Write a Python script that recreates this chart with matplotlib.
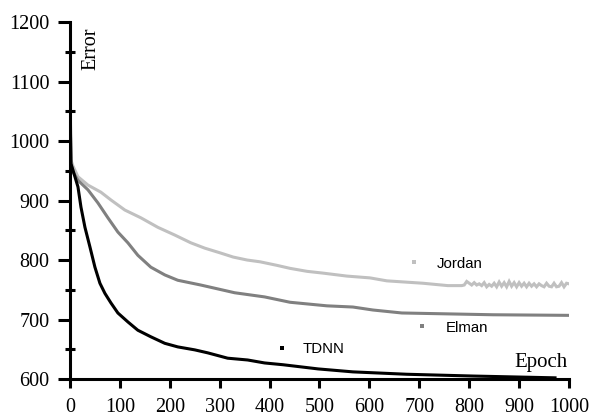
import matplotlib
matplotlib.use("Agg")
import matplotlib.pyplot as plt
from matplotlib.ticker import MultipleLocator

# curves (epoch, error)
tdnn_epoch = [0, 2, 6, 16, 22, 30, 40, 50, 60, 70, 82, 96, 116, 136, 162, 190, 216,
              250, 276, 316, 356, 390, 427, 497, 567, 675, 808, 972]
tdnn_error = [1060, 962, 951, 923, 889, 855, 822, 788, 761, 744, 728, 711, 696, 682,
              671, 660, 654, 649, 644, 635, 632, 627, 624, 617, 612, 608, 605, 602]

elman_epoch = [0, 2, 6, 16, 36, 56, 76, 96, 116, 136, 162, 190, 216, 262, 330,
               390, 441, 515, 567, 607, 665, 848, 1000]
elman_error = [1095, 962, 948, 934, 918, 896, 871, 847, 829, 808, 788, 775, 766, 758,
               745, 738, 729, 723, 721, 716, 711, 708, 707]

jordan_epoch = [0, 2, 6, 16, 36, 62, 82, 110, 142, 176, 210, 242, 270, 301, 327,
                355, 381, 415, 441, 475, 507, 555, 601, 635, 707, 757, 780, 785, 790,
                795, 800, 805, 810, 815, 820, 825, 830, 835, 840, 845, 850, 855, 860,
                865, 870, 875, 880, 885, 890, 895, 900, 905, 910, 915, 920, 925, 930,
                935, 940, 945, 950, 955, 960, 965, 970, 975, 980, 985, 990, 995, 1000]
jordan_error = [1100, 968, 958, 940, 926, 914, 901, 884, 871, 855, 842, 829, 820,
                812, 805, 800, 797, 791, 786, 781, 778, 773, 770, 765, 761, 757, 757,
                757, 758, 764, 761, 758, 762, 758, 760, 757, 762, 755, 759, 756, 761,
                755, 763, 756, 762, 755, 764, 756, 762, 755, 762, 756, 761, 755, 761,
                756, 760, 755, 760, 757, 755, 761, 756, 755, 761, 755, 756, 762, 755,
                761, 760]

names = ["Jordan", "Elman", "TDNN"]
colors = ["#c0c0c0", "#808080", "#000000"]
label_marker = [(689, 797), (705, 689), (425, 652)]
label_text = [(735, 793), (752, 686), (467, 650)]

fig = plt.figure(figsize=(5.91, 4.16), dpi=100)
ax = fig.add_axes([0.1184, 0.0889, 0.8444, 0.8581])

series = [(jordan_epoch, jordan_error), (elman_epoch, elman_error), (tdnn_epoch, tdnn_error)]
for (ep, er), c in zip(series, colors):
    ax.plot(ep, er, color=c, linewidth=2.2, zorder=2, solid_joinstyle="miter")

for name, c, (mx, my), (tx, ty) in zip(names, colors, label_marker, label_text):
    ax.plot([mx], [my], marker="s", ms=2.2, mew=0, color=c, linestyle="none")
    ax.text(tx, ty, name, fontsize=10.8, family="Liberation Sans", va="center", ha="left")

ax.set_xlim(0, 1000)
ax.set_ylim(600, 1200)
for s in ["top", "right"]:
    ax.spines[s].set_visible(False)
for s in ["left", "bottom"]:
    ax.spines[s].set_linewidth(2.2)
    ax.spines[s].set_zorder(3)

ax.xaxis.set_major_locator(MultipleLocator(100))
ax.yaxis.set_major_locator(MultipleLocator(100))
ax.yaxis.set_minor_locator(MultipleLocator(50))
ax.tick_params(axis="x", direction="out", length=6.5, width=2.2, pad=7,
               labelsize=14.5, labelfontfamily="Liberation Serif")
ax.tick_params(axis="y", which="major", direction="out", length=8.6, width=2.2, pad=6,
               labelsize=14.5, labelfontfamily="Liberation Serif")
ax.tick_params(axis="y", which="minor", direction="inout", length=7.2, width=2.2)

ax.text(42, 1155, "Error", rotation=90, ha="center", va="center",
        fontsize=14.5, family="Liberation Serif")
ax.text(998, 620, "Epoch", ha="right", va="baseline",
        fontsize=15, family="Liberation Serif")

fig.savefig("out.png", dpi=100)
